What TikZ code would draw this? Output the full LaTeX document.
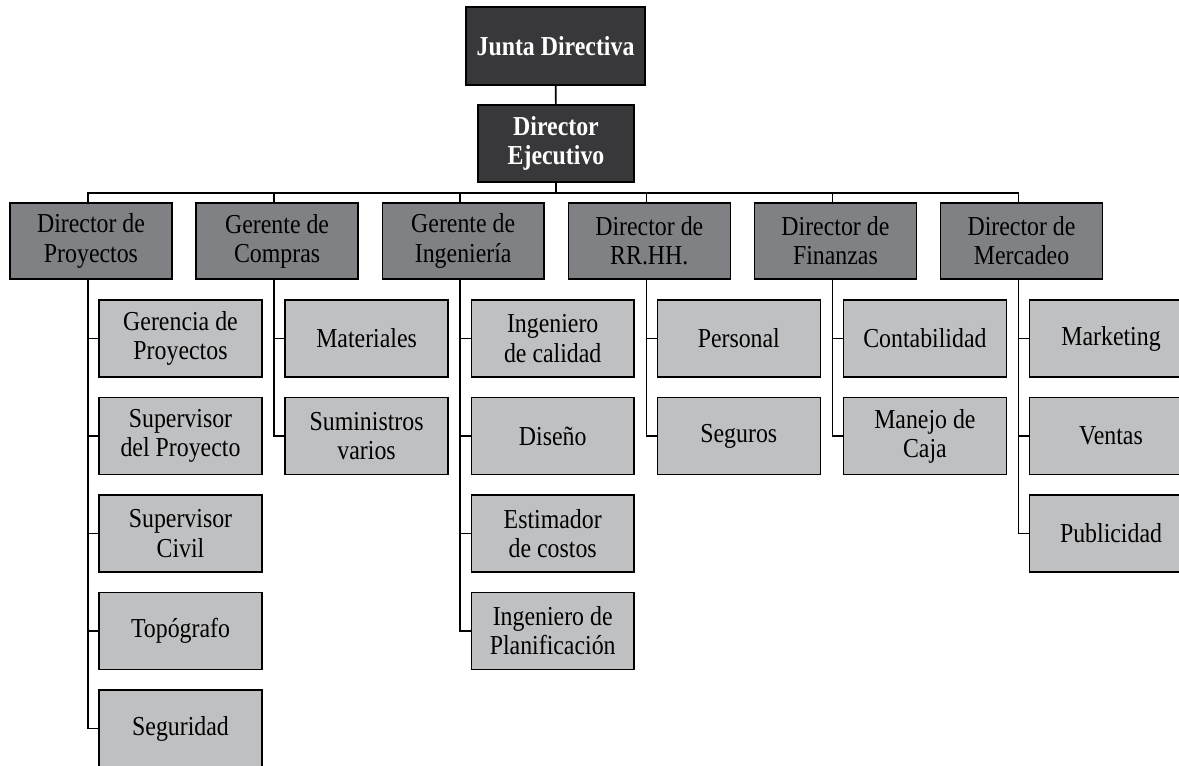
\documentclass[tikz,border=0pt]{standalone}
\usepackage{fontspec}
\setmainfont{Liberation Serif}[FakeStretch=0.87]
\usetikzlibrary{math}
\definecolor{boxdark}{HTML}{38383A}
\definecolor{boxmid}{HTML}{808185}
\definecolor{boxlight}{HTML}{BFC0C2}

\begin{document}
\begin{tikzpicture}[x=0.02cm,y=-0.02cm]
\tikzmath{\W=186.1; \R=97.5;}
\tikzset{
  box/.style={draw=black, line width=0.8pt, align=center, inner sep=0pt,
    font=\fontsize{15.6}{16.6}\selectfont},
  jefe/.style={box, fill=boxdark, text=white,
    font=\fontsize{15.6}{16.6}\selectfont\bfseries},
  director/.style={box, fill=boxmid, minimum width=3.24cm, minimum height=1.52cm},
  area/.style={box, fill=boxlight, minimum width=3.26cm, minimum height=1.54cm},
  link/.style={draw=black, line width=0.9pt}
}
\useasboundingbox (0,0) rectangle (1179,765);
% Top
\node[jefe, minimum width=3.58cm, minimum height=1.56cm] (junta) at (555.5,46) {Junta Directiva};
\node[jefe, minimum width=3.12cm, minimum height=1.54cm] (ejec) at (556,143.5) {Director\\Ejecutivo};
\draw[link] (junta) -- (ejec);
\coordinate (bus) at (556,193);
\draw[link] (ejec) -- (bus);
% Directores
\foreach \t [count=\i] in {{Director de\\Proyectos},{Gerente de\\Compras},
    {Gerente de\\Ingeniería},{Director de\\RR.HH.},{Director de\\Finanzas},
    {Director de\\Mercadeo}}
  \node[director] (d\i) at ({91+(\i-1)*\W},241) {\t};
\foreach \i in {1,...,6}
  \draw[link] (bus) -| ([xshift=-0.06cm]d\i.north);
% Areas
\foreach \c/\lista in {
    1/{{Gerencia de\\Proyectos},{Supervisor\\del Proyecto},{Supervisor\\Civil},{Topógrafo},{Seguridad}},
    2/{{Materiales},{Suministros\\varios}},
    3/{{Ingeniero\\de calidad},{Diseño},{Estimador\\de costos},{Ingeniero de\\Planificación}},
    4/{{Personal},{Seguros}},
    5/{{Contabilidad},{Manejo de\\Caja}},
    6/{{Marketing},{Ventas},{Publicidad}}}
  \foreach \t [count=\j] in \lista {
    \node[area] (a\c-\j) at ({180.5+(\c-1)*\W},{338.5+(\j-1)*\R}) {\t};
    \draw[link] ([xshift=-0.06cm]d\c.south) |- (a\c-\j.west);
  }
\end{tikzpicture}
\end{document}
